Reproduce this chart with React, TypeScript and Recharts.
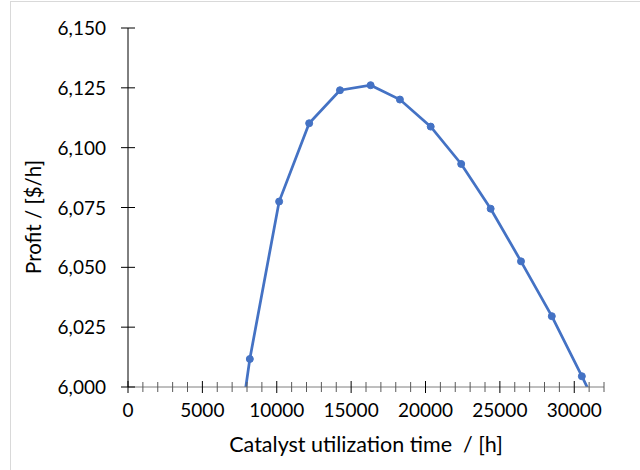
import React from 'react';
import { LineChart, Line, XAxis, YAxis, Label } from 'recharts';

const hours = [6160, 8190, 10160, 12180, 14250, 16310, 18280, 20350, 22400, 24380, 26420, 28490, 30510, 32540];
const profit = [5924, 6011.7, 6077.5, 6110.2, 6124.0, 6126.1, 6120.1, 6108.8, 6093.2, 6074.5, 6052.5, 6029.6, 6004.5, 5978.7];
const yTicks = [6000, 6025, 6050, 6075, 6100, 6125, 6150];
const xTicks = Array.from({ length: 33 }, (_, i) => i * 1000);

const data = hours.map((h, i) => ({ h, p: profit[i] }));

const FONT = 'Lato, "Open Sans", sans-serif';

const XTick = (props: any) => {
  const { x, y, payload } = props;
  const v = payload.value as number;
  const major = v % 5000 === 0;
  return (
    <g>
      <line x1={x} x2={x} y1={y - (major ? 6 : 5)} y2={y + (major ? 6 : 5)} stroke={major ? '#000' : '#595959'} strokeWidth={1} />
      {major && (
        <text x={x} y={y + 30} textAnchor="middle" fontSize={19} fontFamily={FONT} fill="#000">{String(v)}</text>
      )}
    </g>
  );
};

const YTick = (props: any) => {
  const { x, y, payload } = props;
  const v = payload.value as number;
  return (
    <g>
      <line x1={x - 7} x2={x + 7} y1={y} y2={y} stroke="#000" strokeWidth={1} />
      <text x={x - 22} y={y + 7} textAnchor="end" fontSize={19} fontFamily={FONT} fill="#000">{v.toLocaleString('en-US')}</text>
    </g>
  );
};

export default function App() {
  return (
    <div style={{ position: 'absolute', left: 0, top: 0, width: 640, height: 470, overflow: 'hidden', background: '#fff' }}>
      <div style={{ position: 'absolute', left: 10, top: 1, width: 700, height: 520, border: '1px solid #d9d9d9' }} />
      <div style={{ position: 'absolute', left: 0, top: 0 }}>
        <LineChart width={640} height={470} data={data} margin={{ top: 28, right: 36, bottom: 43, left: 68 }}>
          <XAxis
            dataKey="h"
            type="number"
            domain={[0, 32000]}
            ticks={xTicks}
            interval={0}
            allowDataOverflow
            height={40}
            tickSize={0}
            tickMargin={0}
            tickLine={false}
            stroke="#7f7f7f"
            tick={(p: any) => <XTick {...p} />}
          >
            <Label
              content={() => (
                <text x={366} y={452} textAnchor="middle" fontSize={21.5} fontFamily={FONT} fill="#000" xmlSpace="preserve" style={{ whiteSpace: 'pre' }}>
                  {'Catalyst utilization time  / [h]'}
                </text>
              )}
            />
          </XAxis>
          <YAxis
            type="number"
            domain={[6000, 6150]}
            ticks={yTicks}
            interval={0}
            allowDataOverflow
            width={60}
            tickSize={0}
            tickMargin={0}
            tickLine={false}
            stroke="#000"
            tick={(p: any) => <YTick {...p} />}
          >
            <Label
              content={() => (
                <text x={41} y={217} textAnchor="middle" fontSize={20.5} fontFamily={FONT} fill="#000" transform="rotate(-90 41 217)">
                  {'Profit / [$/h]'}
                </text>
              )}
            />
          </YAxis>
          <Line
            dataKey="p"
            stroke="#4472C4"
            strokeWidth={2.75}
            dot={{ r: 3.5, fill: '#4472C4', stroke: '#4472C4', strokeWidth: 1 }}
            isAnimationActive={false}
          />
        </LineChart>
      </div>
    </div>
  );
}
